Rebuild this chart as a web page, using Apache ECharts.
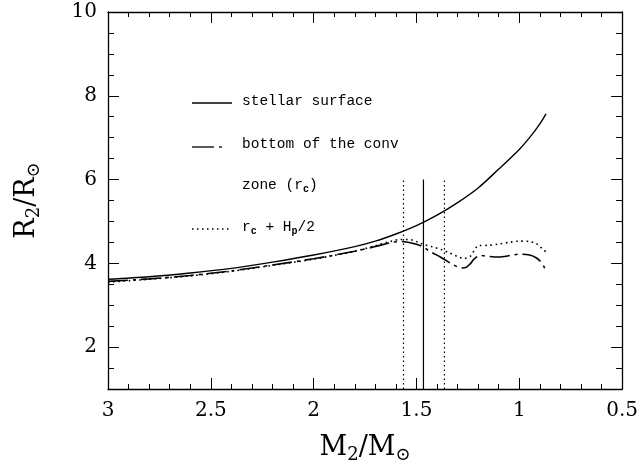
<!DOCTYPE html>
<html>
<head>
<meta charset="utf-8">
<script src="https://cdn.jsdelivr.net/npm/echarts@6/dist/echarts.min.js"></script>
<style>html,body{margin:0;padding:0;background:#fff}#c{width:641px;height:473px}</style>
</head>
<body>
<div id="c"></div>
<script>
// Stellar surface
const surfaceM = [3.0, 2.8, 2.6, 2.4, 2.2, 2.0, 1.8, 1.7, 1.6, 1.5, 1.4, 1.3, 1.2, 1.1, 1.0, 0.95, 0.9, 0.87];
const surfaceR = [3.62, 3.68, 3.77, 3.88, 4.03, 4.20, 4.40, 4.53, 4.70, 4.90, 5.15, 5.45, 5.80, 6.25, 6.72, 7.00, 7.33, 7.57];
// Bottom of the convective zone (r_c)
const convM = [3.0, 2.8, 2.6, 2.4, 2.2, 2.0, 1.8, 1.7, 1.62, 1.57, 1.52, 1.47, 1.44, 1.38, 1.33, 1.3, 1.28, 1.26, 1.24, 1.22, 1.19, 1.16, 1.1, 1.04, 1.0, 0.95, 0.92, 0.9, 0.88, 0.87];
const convR = [3.57, 3.63, 3.71, 3.82, 3.96, 4.11, 4.29, 4.40, 4.50, 4.52, 4.48, 4.40, 4.30, 4.14, 3.99, 3.92, 3.89, 3.90, 3.98, 4.10, 4.19, 4.17, 4.15, 4.19, 4.22, 4.20, 4.14, 4.06, 3.92, 3.79];
// r_c + H_p/2
const hpM = [3.0, 2.8, 2.6, 2.4, 2.2, 2.0, 1.8, 1.7, 1.62, 1.58, 1.54, 1.5, 1.47, 1.42, 1.38, 1.34, 1.3, 1.27, 1.24, 1.22, 1.2, 1.15, 1.1, 1.05, 1.0, 0.95, 0.92, 0.9, 0.88, 0.87];
const hpR = [3.55, 3.62, 3.70, 3.81, 3.95, 4.10, 4.29, 4.42, 4.53, 4.57, 4.57, 4.52, 4.46, 4.39, 4.33, 4.25, 4.16, 4.12, 4.16, 4.30, 4.42, 4.43, 4.46, 4.50, 4.53, 4.52, 4.48, 4.40, 4.32, 4.26];
// Vertical markers
const solidVM = [1.466, 1.466];
const solidVR = [1, 6];
const dotV1M = [1.563, 1.563];
const dotV2M = [1.364, 1.364];
const dotVR = [1, 6];
// Tick labels
const yMajorTicks = [2, 4, 6, 8, 10];

function zip(a, b) { return a.map((v, i) => [v, b[i]]); }

const serif = 'DejaVu Serif';
const mono = 'Liberation Mono';
const black = '#000';

const nameRich = {
  a: { fontFamily: serif, fontSize: 27, color: black, lineHeight: 32 },
  s: { fontFamily: serif, fontSize: 18, color: black, lineHeight: 14, verticalAlign: 'bottom' }
};
const legRich = {
  a: { fontFamily: mono, fontSize: 14.5, color: black, lineHeight: 18 },
  s: { fontFamily: mono, fontSize: 10, color: black, fontWeight: 'bold', lineHeight: 9, verticalAlign: 'bottom' }
};

const baseX = {
  type: 'value', min: 0.5, max: 3, interval: 0.5, inverse: true,
  axisLine: { show: true, onZero: false, lineStyle: { color: black, width: 1.3 } },
  axisTick: { show: true, inside: true, length: 11, lineStyle: { color: black, width: 1 } },
  minorTick: { show: true, splitNumber: 5, length: 5, lineStyle: { color: black, width: 1 } },
  splitLine: { show: false }, minorSplitLine: { show: false }
};
const baseY = {
  type: 'value', min: 1, max: 10, interval: 0.5,
  axisLine: { show: true, onZero: false, lineStyle: { color: black, width: 1.3 } },
  axisTick: { show: true, inside: true, length: 6, lineStyle: { color: black, width: 1 } },
  splitLine: { show: false }
};
const majorY = {
  type: 'value', min: 1, max: 10,
  axisLine: { show: false },
  axisLabel: { show: false },
  axisTick: { show: true, inside: true, length: 11, customValues: yMajorTicks, lineStyle: { color: black, width: 1 } },
  splitLine: { show: false }
};

const option = {
  backgroundColor: '#fff',
  animation: false,
  grid: { left: 108, top: 12, right: 18, bottom: 84, containLabel: false },
  xAxis: [
    Object.assign({}, baseX, {
      position: 'bottom',
      axisLabel: { show: true, fontFamily: serif, fontSize: 20, color: black, margin: 12 },
      name: '{a|M}{s|2}{a|/M}{s|⊙}', nameLocation: 'middle', nameGap: 43,
      nameTextStyle: { rich: nameRich }
    }),
    Object.assign({}, baseX, { position: 'top', axisLabel: { show: false } })
  ],
  yAxis: [
    Object.assign({}, baseY, {
      position: 'left',
      axisLabel: { show: true, fontFamily: serif, fontSize: 20, color: black, margin: 11,
        formatter: v => (Math.abs(v % 2) < 1e-9 ? String(v) : '') },
      name: '{a|R}{s|2}{a|/R}{s|⊙}', nameLocation: 'middle', nameGap: 65, nameRotate: 90,
      nameTextStyle: { rich: nameRich }
    }),
    Object.assign({}, majorY, { position: 'left' }),
    Object.assign({}, baseY, { position: 'right', axisLabel: { show: false } }),
    Object.assign({}, majorY, { position: 'right' })
  ],
  series: [
    { type: 'line', data: zip(surfaceM, surfaceR), showSymbol: false, smooth: 0.3,
      lineStyle: { color: black, width: 1.4 } },
    { type: 'line', data: zip(convM, convR), showSymbol: false, smooth: 0.3,
      lineStyle: { color: black, width: 1.6, type: [20, 5, 3, 5] } },
    { type: 'line', data: zip(hpM, hpR), showSymbol: false, smooth: 0.3,
      lineStyle: { color: black, width: 1.6, type: [1.6, 3.6] } },
    { type: 'line', data: zip(solidVM, solidVR), showSymbol: false,
      lineStyle: { color: black, width: 1.2 } },
    { type: 'line', data: zip(dotV1M, dotVR), showSymbol: false,
      lineStyle: { color: black, width: 1.2, type: [1.5, 3] } },
    { type: 'line', data: zip(dotV2M, dotVR), showSymbol: false,
      lineStyle: { color: black, width: 1.2, type: [1.5, 3] } }
  ],
  graphic: [
    { type: 'line', shape: { x1: 192, y1: 103, x2: 232, y2: 103 }, style: { stroke: black, lineWidth: 1.3 } },
    { type: 'text', left: 242, top: 94, style: { text: 'stellar surface', font: '14.5px "Liberation Mono"', fill: black } },
    { type: 'line', shape: { x1: 192, y1: 147, x2: 214, y2: 147 }, style: { stroke: black, lineWidth: 1.3 } },
    { type: 'line', shape: { x1: 219, y1: 147, x2: 222, y2: 147 }, style: { stroke: black, lineWidth: 1.3 } },
    { type: 'text', left: 242, top: 137, style: { text: 'bottom of the conv', font: '14.5px "Liberation Mono"', fill: black } },
    { type: 'text', left: 242, top: 178, style: { text: '{a|zone (r}{s|c}{a|)}', rich: legRich } },
    { type: 'line', shape: { x1: 192, y1: 229, x2: 232, y2: 229 }, style: { stroke: black, lineWidth: 1.3, lineDash: [1.5, 3.5] } },
    { type: 'text', left: 242, top: 220, style: { text: '{a|r}{s|c}{a| + H}{s|p}{a|/2}', rich: legRich } }
  ]
};

const chart = echarts.init(document.getElementById('c'), null, { renderer: 'canvas' });
chart.setOption(option);
</script>
</body>
</html>
